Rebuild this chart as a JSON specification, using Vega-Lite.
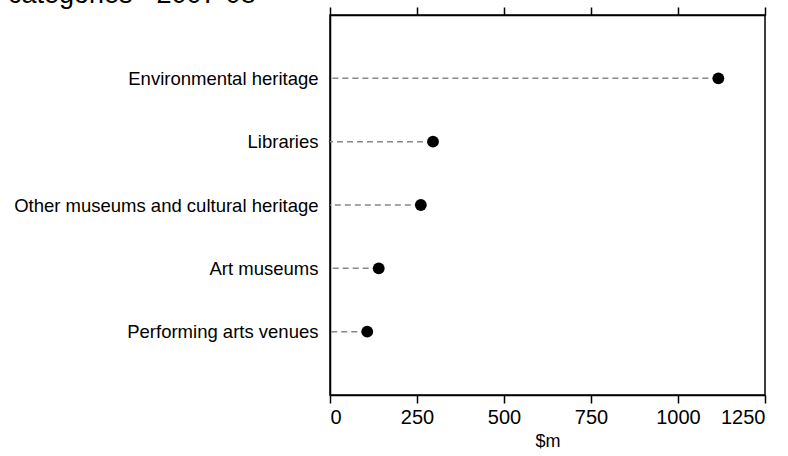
{
  "$schema": "https://vega.github.io/schema/vega-lite/v6.json",
  "width": 435,
  "height": 380,
  "autosize": "none",
  "padding": {"left": 330, "top": 15, "right": 23, "bottom": 61},
  "background": "white",
  "title": {
    "text": "categories - 2007-08",
    "anchor": "start",
    "frame": "group",
    "dx": -322,
    "dy": 24,
    "offset": 0,
    "baseline": "alphabetic",
    "font": "Liberation Sans",
    "fontSize": 27,
    "fontWeight": "normal",
    "color": "black"
  },
  "config": {
    "view": {"stroke": "black", "strokeWidth": 1.5},
    "axis": {
      "labelFont": "Liberation Sans",
      "titleFont": "Liberation Sans",
      "labelFontSize": 18,
      "titleFontSize": 18,
      "titleFontWeight": "normal",
      "labelColor": "black",
      "titleColor": "black",
      "domainColor": "black",
      "tickColor": "black",
      "labelLimit": 0,
      "grid": false
    }
  },
  "data": {
    "values": [
      {"category": "Environmental heritage", "value": 1116},
      {"category": "Libraries", "value": 296},
      {"category": "Other museums and cultural heritage", "value": 261},
      {"category": "Art museums", "value": 140},
      {"category": "Performing arts venues", "value": 107}
    ]
  },
  "layer": [
    {
      "mark": {"type": "rule", "color": "#888888", "strokeDash": [6, 4], "strokeWidth": 1.5},
      "encoding": {
        "y": {
          "field": "category",
          "type": "nominal",
          "sort": null,
          "scale": {"type": "point", "padding": 1},
          "axis": {"title": null, "ticks": false, "domain": true, "domainWidth": 1.5, "labelPadding": 12, "labelFontSize": 18.5}
        },
        "x": {
          "field": "value",
          "type": "quantitative",
          "scale": {"domain": [0, 1250], "nice": false},
          "axis": {"orient": "top", "title": null, "labels": false, "values": [0, 250, 500, 750, 1000, 1250], "tickSize": 8, "tickWidth": 1.5, "domainWidth": 1.5}
        },
        "x2": {"datum": 0}
      }
    },
    {
      "mark": {"type": "circle", "color": "black", "opacity": 1, "size": 140},
      "encoding": {
        "y": {"field": "category", "type": "nominal", "sort": null},
        "x": {
          "field": "value",
          "type": "quantitative",
          "axis": {"orient": "bottom", "title": "$m", "format": "d", "values": [0, 250, 500, 750, 1000, 1250], "tickSize": 8, "tickWidth": 1.5, "domainWidth": 1.5, "labelFontSize": 20, "labelPadding": 4, "titlePadding": 5}
        }
      }
    }
  ],
  "resolve": {"axis": {"x": "independent"}}
}
